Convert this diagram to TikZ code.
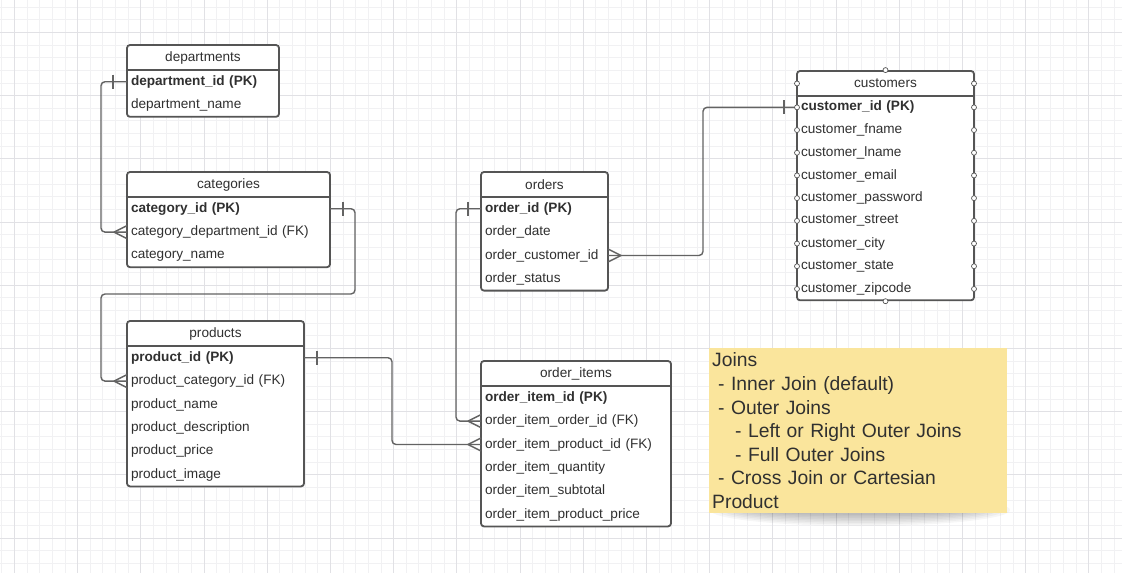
\documentclass[tikz,border=0pt]{standalone}
\usepackage{fontspec}
\setmainfont{Liberation Sans}
\usetikzlibrary{positioning,fit}

\definecolor{linegray}{HTML}{555555}
\definecolor{relgray}{HTML}{636363}
\definecolor{txtgray}{HTML}{303030}
\definecolor{notefill}{HTML}{FAE59C}
\definecolor{gridminor}{HTML}{F1F1F3}
\definecolor{gridmajor}{HTML}{E1E1E5}

\tikzset{
  tbltitle/.style={anchor=north west, fill=white, minimum height=25pt, inner xsep=4pt, inner ysep=0pt, outer sep=0pt, text=txtgray, font=\fontsize{13.6}{16}\selectfont},
  tblrow/.style={fill=white, minimum height=23.4pt, inner xsep=4pt, inner ysep=0pt, outer sep=0pt, align=left, text=txtgray, font=\fontsize{13.6}{16}\selectfont},
  pkrow/.style={tblrow, font=\fontsize{13.6}{16}\selectfont\bfseries},
  cusrow/.style={tblrow, minimum height=22.7pt},
  tblbox/.style={draw=linegray, line width=1.8pt, rounded corners=3pt, inner sep=0pt},
  tblline/.style={draw=linegray, line width=1.8pt},
  rel/.style={draw=relgray, line width=1.4pt, rounded corners=4pt},
  handle/.style={draw=linegray, line width=0.7pt, fill=white},
  note/.style={anchor=north west, fill=notefill, minimum width=298pt, minimum height=165pt, text width=292pt, inner xsep=3pt, inner ysep=0pt, align=left, text=txtgray, font=\fontsize{19.3}{23.6}\selectfont},
  pics/crowfoot/.style={code={\draw[rel, rounded corners=0pt] (-13,0) -- (0,-6.5) (-13,0) -- (0,6.5);}},
  pics/onebar/.style={code={\draw[rel, rounded corners=0pt] (0,-7) -- (0,7);}},
}

\begin{document}
\begin{tikzpicture}[x=1pt, y=-1pt]
  \useasboundingbox[fill=white] (0,0) rectangle (1122,573);
  % grid
  \foreach \i in {0,...,88} \draw[gridminor, line width=0.6pt] ({1.66+12.64*\i},0) -- ++(0,573);
  \foreach \j in {0,...,44} \draw[gridminor, line width=0.6pt] (0,{6.98+12.64*\j}) -- ++(1122,0);
  \foreach \i in {0,...,17} \draw[gridmajor, line width=0.8pt] ({14.3+63.2*\i},0) -- ++(0,573);
  \foreach \j in {0,...,8} \draw[gridmajor, line width=0.8pt] (0,{32.3+63.2*\j}) -- ++(1122,0);

  % departments
  \node[tbltitle, minimum width=152pt] (dep) at (127,45) {departments};
  \node[pkrow, text width=144pt, below=0pt of dep] (dep1) {department\_id (PK)};
  \node[tblrow, text width=144pt, below=0pt of dep1] (dep2) {department\_name};
  \node[tblbox, fit=(dep)(dep2)] (depbox) {};
  \draw[tblline] (dep.south west) -- (dep.south east);

  % categories
  \node[tbltitle, minimum width=203pt] (cat) at (127,172) {categories};
  \node[pkrow, text width=195pt, below=0pt of cat] (cat1) {category\_id (PK)};
  \node[tblrow, text width=195pt, below=0pt of cat1] (cat2) {category\_department\_id (FK)};
  \node[tblrow, text width=195pt, below=0pt of cat2] (cat3) {category\_name};
  \node[tblbox, fit=(cat)(cat3)] (catbox) {};
  \draw[tblline] (cat.south west) -- (cat.south east);

  % products
  \node[tbltitle, minimum width=177pt] (prod) at (127,321) {products};
  \node[pkrow, text width=169pt, below=0pt of prod] (prod1) {product\_id (PK)};
  \node[tblrow, text width=169pt, below=0pt of prod1] (prod2) {product\_category\_id (FK)};
  \node[tblrow, text width=169pt, below=0pt of prod2] (prod3) {product\_name};
  \node[tblrow, text width=169pt, below=0pt of prod3] (prod4) {product\_description};
  \node[tblrow, text width=169pt, below=0pt of prod4] (prod5) {product\_price};
  \node[tblrow, text width=169pt, below=0pt of prod5] (prod6) {product\_image};
  \node[tblbox, fit=(prod)(prod6)] (prodbox) {};
  \draw[tblline] (prod.south west) -- (prod.south east);

  % orders
  \node[tbltitle, minimum width=127pt] (ord) at (481,172) {orders};
  \node[pkrow, text width=119pt, below=0pt of ord] (ord1) {order\_id (PK)};
  \node[tblrow, text width=119pt, below=0pt of ord1] (ord2) {order\_date};
  \node[tblrow, text width=119pt, below=0pt of ord2] (ord3) {order\_customer\_id};
  \node[tblrow, text width=119pt, below=0pt of ord3] (ord4) {order\_status};
  \node[tblbox, fit=(ord)(ord4)] (ordbox) {};
  \draw[tblline] (ord.south west) -- (ord.south east);

  % order_items
  \node[tbltitle, minimum width=190pt] (oi) at (481,361) {order\_items};
  \node[pkrow, text width=182pt, below=0pt of oi] (oi1) {order\_item\_id (PK)};
  \node[tblrow, text width=182pt, below=0pt of oi1] (oi2) {order\_item\_order\_id (FK)};
  \node[tblrow, text width=182pt, below=0pt of oi2] (oi3) {order\_item\_product\_id (FK)};
  \node[tblrow, text width=182pt, below=0pt of oi3] (oi4) {order\_item\_quantity};
  \node[tblrow, text width=182pt, below=0pt of oi4] (oi5) {order\_item\_subtotal};
  \node[tblrow, text width=182pt, below=0pt of oi5] (oi6) {order\_item\_product\_price};
  \node[tblbox, fit=(oi)(oi6)] (oibox) {};
  \draw[tblline] (oi.south west) -- (oi.south east);

  % customers
  \node[tbltitle, minimum width=177pt] (cus) at (797,71) {customers};
  \node[pkrow, cusrow, font=\fontsize{13.6}{16}\selectfont\bfseries, text width=169pt, below=0pt of cus] (cus1) {customer\_id (PK)};
  \node[cusrow, text width=169pt, below=0pt of cus1] (cus2) {customer\_fname};
  \node[cusrow, text width=169pt, below=0pt of cus2] (cus3) {customer\_lname};
  \node[cusrow, text width=169pt, below=0pt of cus3] (cus4) {customer\_email};
  \node[cusrow, text width=169pt, below=0pt of cus4] (cus5) {customer\_password};
  \node[cusrow, text width=169pt, below=0pt of cus5] (cus6) {customer\_street};
  \node[cusrow, text width=169pt, below=0pt of cus6] (cus7) {customer\_city};
  \node[cusrow, text width=169pt, below=0pt of cus7] (cus8) {customer\_state};
  \node[cusrow, text width=169pt, below=0pt of cus8] (cus9) {customer\_zipcode};
  \node[tblbox, fit=(cus)(cus9)] (cusbox) {};
  \draw[tblline] (cus.south west) -- (cus.south east);

  % relations
  \draw[rel] (dep1.west) -- ++(-26,0) |- (cat2.west);
  \pic at ([xshift=-14pt]dep1.west) {onebar};
  \pic at (cat2.west) {crowfoot};

  \coordinate (c1) at (355,294);
  \coordinate (c2) at (101,294);
  \draw[rel] (cat1.east) -| (c1) -- (c2) |- (prod2.west);
  \pic at ([xshift=13pt]cat1.east) {onebar};
  \pic at (prod2.west) {crowfoot};

  \draw[rel] (prod1.east) -- ++(88,0) |- (oi3.west);
  \pic at ([xshift=13pt]prod1.east) {onebar};
  \pic at (oi3.west) {crowfoot};

  \draw[rel] (ord1.west) -- ++(-25,0) |- (oi2.west);
  \pic at ([xshift=-13pt]ord1.west) {onebar};
  \pic at (oi2.west) {crowfoot};

  \draw[rel] (ord3.east) -- ++(95,0) |- (cus1.west);
  \pic[xscale=-1] at (ord3.east) {crowfoot};
  \pic at ([xshift=-13pt]cus1.west) {onebar};

  % selection handles
  \foreach \n in {cus,cus1,cus2,cus3,cus4,cus5,cus6,cus7,cus8,cus9}
    \draw[handle] (\n.west) circle (2.5pt) (\n.east) circle (2.5pt);
  \draw[handle] (cusbox.north) circle (2.5pt) (cusbox.south) circle (2.5pt);

  % note with soft shadow
  \foreach \k in {0,...,7}
    \fill[black, opacity=0.035] (860,510) ellipse ({150-6*\k} and {16-1.6*\k});
  \node[note] (joins) at (709,348) {Joins\\
    \hspace*{6pt}- Inner Join (default)\\
    \hspace*{6pt}- Outer Joins\\
    \hspace*{23pt}- Left or Right Outer Joins\\
    \hspace*{23pt}- Full Outer Joins\\
    \hspace*{6pt}- Cross Join or Cartesian\\
    Product};
\end{tikzpicture}
\end{document}
